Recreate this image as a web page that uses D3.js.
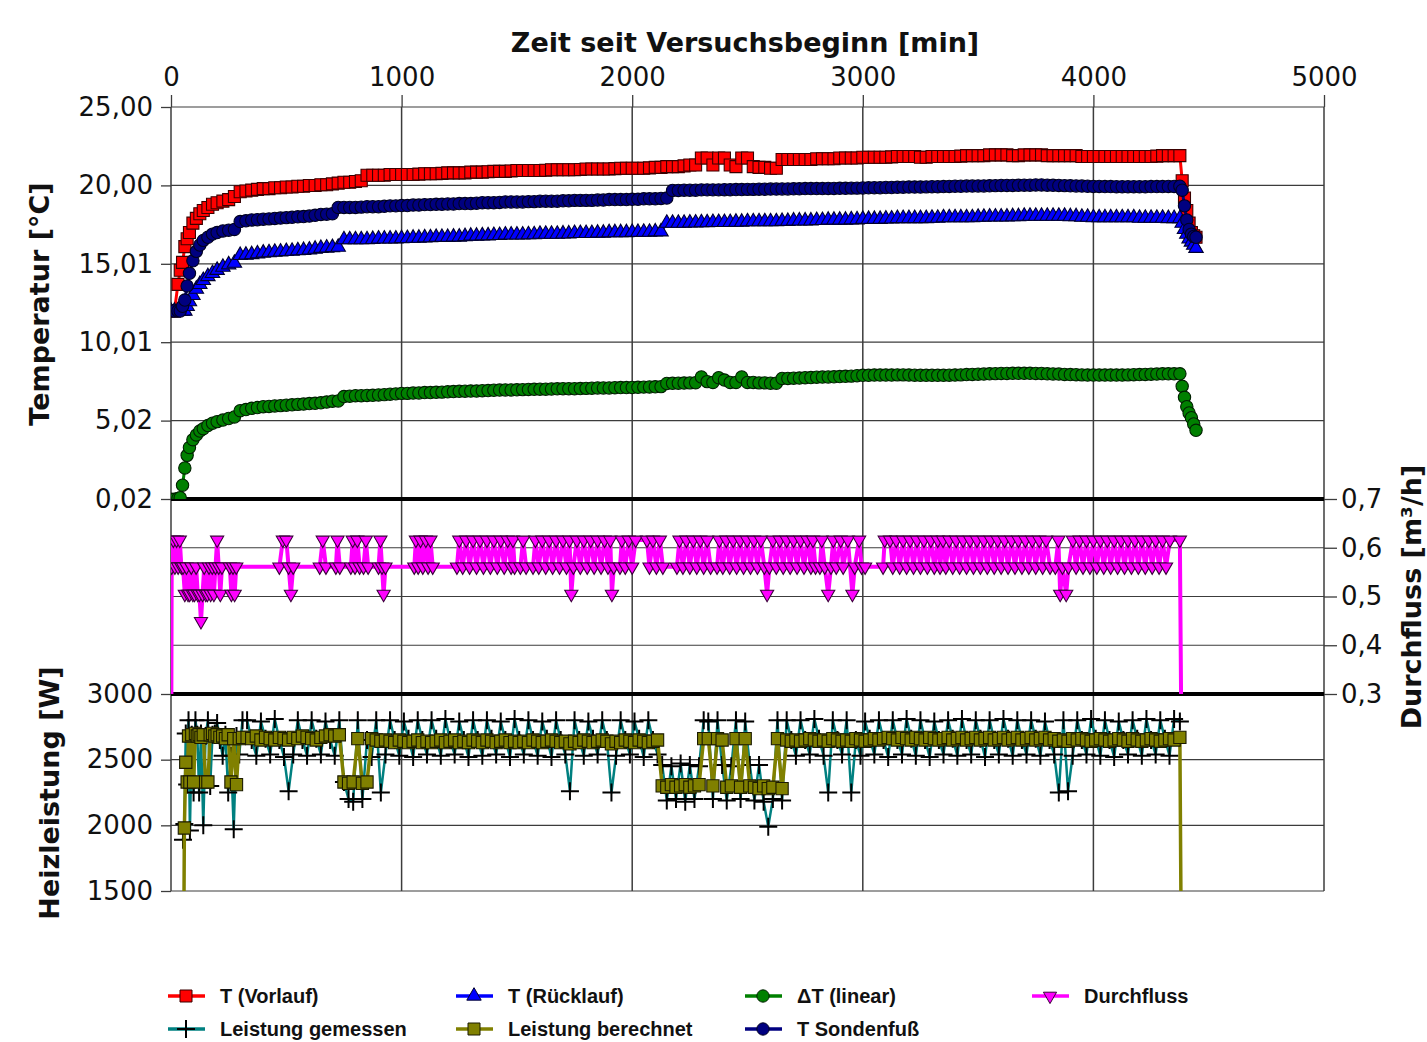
<!DOCTYPE html>
<html><head><meta charset="utf-8">
<script src="https://cdn.jsdelivr.net/npm/d3@7"></script>
<style>
body{margin:0;background:#fff}
</style></head><body>
<svg id="c" width="1427" height="1042"></svg>
<script>
// ---------------- DATA ----------------
const xTicks = [0, 1000, 2000, 3000, 4000, 5000];
const tempTicks = [0.02, 5.016, 10.012, 15.008, 20.004, 25.0];
const flowTicks = [0.3, 0.4, 0.5, 0.6, 0.7];
const powTicks = [1500, 2000, 2500, 3000];

// time [min] for temperature series
const tTemp = [0,15,30,40,50,60,70,80,95,110,125,140,160,180,200,225,250,275,
300,325,350,375,400,425,450,475,500,525,
550,575,600,625,650,675,700,725,750,775,
800,825,850,875,900,925,950,975,1000,1025,
1050,1075,1100,1125,1150,1175,1200,1225,1250,1275,
1300,1325,1350,1375,1400,1425,1450,1475,1500,1525,
1550,1575,1600,1625,1650,1675,1700,1725,1750,1775,
1800,1825,1850,1875,1900,1925,1950,1975,2000,2025,
2050,2075,2100,2125,2150,2175,2200,2225,2250,2275,
2300,2325,2350,2375,2400,2425,2450,2475,2500,2525,
2550,2575,2600,2625,2650,2675,2700,2725,2750,2775,
2800,2825,2850,2875,2900,2925,2950,2975,3000,3025,
3050,3075,3100,3125,3150,3175,3200,3225,3250,3275,
3300,3325,3350,3375,3400,3425,3450,3475,3500,3525,
3550,3575,3600,3625,3650,3675,3700,3725,3750,3775,
3800,3825,3850,3875,3900,3925,3950,3975,4000,4025,
4050,4075,4100,4125,4150,4175,4200,4225,4250,4275,
4300,4325,4350,
4375,4385,4395,4405,4415,4425,4435,4445];

const tVorlauf = [12.0,12.0,13.7,14.6,15.1,16.1,16.6,17.0,17.6,17.9,18.2,18.4,18.6,18.8,18.9,19.0,19.1,19.3,
19.6,19.65,19.7,19.75,19.8,19.8,19.85,19.85,19.9,19.9,
19.95,19.95,20.0,20.0,20.05,20.05,20.1,20.15,20.2,20.2,
20.25,20.3,20.65,20.65,20.65,20.65,20.7,20.7,20.7,20.7,
20.7,20.72,20.75,20.75,20.75,20.77,20.8,20.8,20.8,20.8,
20.85,20.85,20.85,20.87,20.9,20.9,20.9,20.92,20.95,20.95,
20.95,20.95,20.95,20.97,21.0,21.0,21.0,21.0,21.0,21.02,
21.05,21.05,21.05,21.05,21.05,21.07,21.1,21.1,21.1,21.1,
21.1,21.12,21.15,21.15,21.2,21.2,21.2,21.25,21.3,21.3,
21.75,21.75,21.3,21.75,21.75,21.3,21.2,21.75,21.75,21.2,
21.15,21.15,21.1,21.1,21.65,21.65,21.65,21.65,21.65,21.65,
21.7,21.7,21.7,21.7,21.75,21.75,21.75,21.75,21.8,21.8,
21.8,21.8,21.8,21.82,21.85,21.85,21.85,21.85,21.8,21.8,
21.85,21.85,21.85,21.85,21.85,21.87,21.9,21.9,21.9,21.9,
21.95,21.95,21.95,21.95,21.9,21.9,21.95,21.95,21.95,21.95,
21.9,21.9,21.9,21.9,21.9,21.9,21.85,21.85,21.85,21.85,
21.85,21.85,21.85,21.85,21.85,21.85,21.85,21.85,21.85,21.87,
21.9,21.9,21.9,
21.9,20.3,19.2,18.4,17.6,17.0,16.8,16.7];

const tRuecklauf = [12.0,12.0,12.0,12.0,12.0,12.0,12.3,12.6,13.0,13.4,13.7,13.95,14.2,14.4,14.6,14.8,14.95,15.05,
15.55,15.57,15.6,15.65,15.7,15.72,15.75,15.77,15.8,15.82,
15.85,15.87,15.9,15.95,16.0,16.02,16.05,16.07,16.55,16.55,
16.55,16.55,16.55,16.57,16.6,16.6,16.6,16.6,16.62,16.63,
16.65,16.65,16.67,16.68,16.7,16.7,16.7,16.72,16.72,16.75,
16.78,16.78,16.8,16.8,16.82,16.82,16.85,16.85,16.85,16.85,
16.87,16.87,16.9,16.9,16.9,16.9,16.92,16.92,16.95,16.95,
16.95,16.95,16.97,16.97,17.0,17.0,17.0,17.0,17.02,17.02,
17.03,17.03,17.05,17.05,17.6,17.6,17.6,17.6,17.62,17.62,
17.63,17.63,17.65,17.65,17.65,17.65,17.67,17.67,17.7,17.7,
17.7,17.7,17.7,17.7,17.72,17.72,17.75,17.75,17.75,17.75,
17.78,17.78,17.8,17.8,17.8,17.8,17.82,17.82,17.85,17.85,
17.85,17.85,17.87,17.87,17.9,17.9,17.9,17.9,17.9,17.9,
17.92,17.92,17.95,17.95,17.95,17.95,17.95,17.95,17.98,17.98,
18.0,18.0,18.0,18.0,18.02,18.02,18.05,18.05,18.05,18.05,
18.05,18.05,18.05,18.05,18.02,18.02,17.98,17.98,17.95,17.95,
17.95,17.95,17.95,17.95,17.95,17.95,17.92,17.92,17.92,17.92,
17.92,17.9,17.9,
17.9,17.6,17.2,16.9,16.6,16.4,16.2,16.0];

const deltaT = [0.0,0.0,0.05,0.1,0.9,2.0,2.8,3.3,3.8,4.1,4.35,4.5,4.7,4.85,4.95,5.05,5.15,5.25,
5.65,5.72,5.8,5.85,5.9,5.92,5.95,5.97,6.0,6.02,
6.05,6.07,6.1,6.12,6.15,6.2,6.25,6.27,6.55,6.57,
6.6,6.6,6.62,6.63,6.65,6.67,6.7,6.72,6.75,6.75,
6.77,6.78,6.8,6.8,6.82,6.83,6.85,6.87,6.88,6.89,
6.9,6.9,6.92,6.93,6.95,6.96,6.97,6.97,6.98,6.99,
7.0,7.01,7.02,7.02,7.03,7.04,7.05,7.05,7.05,7.06,
7.07,7.08,7.1,7.1,7.1,7.11,7.12,7.12,7.13,7.14,
7.15,7.16,7.17,7.18,7.38,7.39,7.4,7.41,7.42,7.43,
7.8,7.5,7.45,7.75,7.6,7.45,7.45,7.8,7.45,7.45,
7.42,7.42,7.4,7.4,7.7,7.7,7.72,7.73,7.75,7.76,
7.78,7.79,7.8,7.81,7.82,7.84,7.85,7.88,7.9,7.9,
7.92,7.92,7.92,7.92,7.93,7.93,7.92,7.91,7.9,7.9,
7.9,7.9,7.9,7.91,7.92,7.93,7.95,7.96,7.97,7.98,
8.0,8.01,8.02,8.02,8.03,8.03,8.03,8.03,8.02,8.02,
8.0,7.99,7.98,7.96,7.95,7.94,7.93,7.92,7.92,7.92,
7.92,7.92,7.92,7.92,7.93,7.94,7.95,7.96,7.97,7.98,
8.0,8.0,8.0,
8.0,7.2,6.5,5.9,5.5,5.2,4.8,4.4];

const tSondenfuss = [12.0,12.0,12.0,12.0,12.3,12.7,13.6,14.4,15.2,15.8,16.2,16.5,16.7,16.9,17.0,17.1,17.15,17.2,
17.7,17.75,17.8,17.82,17.85,17.87,17.9,17.92,17.95,17.97,
18.0,18.02,18.05,18.1,18.15,18.17,18.2,18.6,18.6,18.6,
18.6,18.62,18.65,18.65,18.65,18.67,18.7,18.7,18.72,18.72,
18.75,18.75,18.78,18.78,18.8,18.8,18.82,18.82,18.85,18.85,
18.85,18.87,18.9,18.9,18.9,18.92,18.95,18.95,18.95,18.95,
18.97,18.97,19.0,19.0,19.0,19.0,19.02,19.02,19.05,19.05,
19.05,19.05,19.07,19.07,19.1,19.1,19.1,19.1,19.12,19.12,
19.15,19.15,19.15,19.17,19.2,19.68,19.68,19.7,19.7,19.7,
19.72,19.72,19.72,19.72,19.73,19.73,19.74,19.74,19.75,19.75,
19.76,19.76,19.77,19.77,19.78,19.78,19.79,19.79,19.8,19.8,
19.8,19.8,19.81,19.81,19.82,19.82,19.83,19.83,19.84,19.85,
19.86,19.86,19.87,19.87,19.88,19.89,19.9,19.9,19.9,19.91,
19.92,19.92,19.93,19.94,19.95,19.95,19.96,19.96,19.97,19.97,
19.98,19.99,20.0,20.0,20.0,20.01,20.02,20.02,20.03,20.03,
20.02,20.01,20.0,19.99,19.98,19.97,19.96,19.95,19.94,19.94,
19.93,19.93,19.92,19.92,19.92,19.92,19.92,19.92,19.93,19.93,
19.93,19.94,19.94,
19.95,19.7,18.7,17.8,17.2,16.9,16.75,16.7];

// Durchfluss [m3/h]
const tFlow = [0,3,10,17,24,31,38,45,52,60,67,74,81,88,95,102,109,116,123,130,137,144,151,158,165,172,179,186,193,200,207,214,221,255,262,269,276,283,
470,485,500,510,520,530,645,658,672,715,722,732,780,788,798,808,818,835,845,855,900,908,915,922,930,1055,1062,1072,1082,1092,1105,1115,1125,1135,
1240,1250,1265,1280,1295,1310,1325,1340,1355,1370,1385,1400,1415,1430,1445,1460,1475,1483,1490,
1515,1527,1540,
1570,1580,1595,1610,1625,1640,1655,1670,1685,1700,1715,1728,1736,1745,1760,1775,1790,1805,1820,1835,1850,1865,1880,1895,1905,1912,1920,
1947,1955,1970,1985,2000,2015,2064,2075,2090,2105,2120,2133,
2194,2205,2220,2235,2250,2265,2280,2295,2310,2325,2340,
2368,2378,2393,2408,2423,2438,2453,2468,2483,2498,2513,2528,2543,2558,2573,2585,2595,2610,2625,2640,2655,2670,2685,2700,2715,2730,2745,2760,2775,2784,2795,
2814,2822,2835,2850,2862,2872,2885,2904,2915,2935,2955,2965,2984,2995,3010,3088,3095,
3118,3130,3145,3160,3175,3190,3205,3220,3235,3250,3265,3280,3295,3310,3325,3335,
3348,3360,3375,3390,3405,3420,3435,3450,3465,3480,3495,3510,3525,3540,3555,3570,3585,3600,3615,3630,3645,3660,3675,3690,3705,3720,3735,3750,3765,3780,3795,3812,
3835,3848,3856,3866,3882,3892,
3911,3925,3940,3955,3970,3985,4000,4015,4030,4045,4060,4075,4090,4105,4120,4135,4150,4165,4180,4195,4210,4225,4240,4255,4270,4285,4300,4315,4332,
4375,4385];

const durchfluss = [0,.561,.616,.561,.616,.561,.616,.561,.561,.505,.561,.505,.505,.561,.505,.505,.561,.505,.505,.449,.505,.561,.505,.505,.561,.505,.561,.505,.561,.616,.561,.505,.561,.561,.505,.561,.505,.561,
.561,.616,.616,.561,.505,.561,.561,.616,.561,.561,.616,.561,.561,.616,.561,.616,.561,.561,.616,.561,.561,.616,.561,.505,.561,.561,.616,.561,.616,.561,.616,.561,.616,.561,
.561,.616,.561,.616,.561,.616,.561,.616,.561,.616,.561,.616,.561,.616,.561,.616,.561,.616,.561,
.561,.616,.561,
.561,.616,.561,.616,.561,.616,.561,.616,.561,.616,.561,.616,.505,.561,.616,.561,.616,.561,.616,.561,.616,.561,.616,.561,.616,.505,.561,
.561,.616,.561,.616,.561,.616,.616,.561,.616,.561,.616,.561,
.561,.616,.561,.616,.561,.616,.561,.616,.561,.616,.561,
.561,.616,.561,.616,.561,.616,.561,.616,.561,.616,.561,.616,.561,.616,.561,.505,.561,.616,.561,.616,.561,.616,.561,.616,.561,.616,.561,.616,.561,.616,.561,
.561,.616,.561,.505,.561,.616,.561,.616,.561,.616,.505,.561,.616,.561,.561,.561,.616,
.616,.561,.616,.561,.616,.561,.616,.561,.616,.561,.616,.561,.616,.561,.616,.561,
.616,.561,.616,.561,.616,.561,.616,.561,.616,.561,.616,.561,.616,.561,.616,.561,.616,.561,.616,.561,.616,.561,.616,.561,.616,.561,.616,.561,.616,.561,.616,.561,
.561,.616,.505,.561,.505,.561,
.616,.561,.616,.561,.616,.561,.616,.561,.616,.561,.616,.561,.616,.561,.616,.561,.616,.561,.616,.561,.616,.561,.616,.561,.616,.561,.616,.561,.616,
.616,0];

// Heizleistung [W]
const tPow = [52,58,64,70,76,82,90,98,106,114,122,130,140,150,160,170,180,190,200,212,224,236,248,260,272,284,296,310,
330,350,370,390,410,430,450,470,490,510,
530,550,570,590,610,630,650,670,690,710,
730,750,770,790,810,830,850,870,890,910,
930,950,970,990,1010,1030,1050,1070,1090,1110,
1130,1150,1170,1190,1210,1230,1250,1270,1290,1310,
1330,1350,1370,1390,1410,1430,1450,1470,1490,1510,
1530,1550,1570,1590,1610,1630,1650,1670,1690,1710,
1730,1750,1770,1790,1810,1830,1850,1870,1890,1910,
1930,1950,1970,1990,2010,2030,2050,2070,2090,2110,
2130,2150,2170,2190,2210,2230,2250,2270,2290,2310,
2330,2350,2370,2390,2410,2430,2450,2470,2490,2510,
2530,2550,2570,2590,2610,2630,2650,2670,2690,2710,
2730,2750,2770,2790,2810,2830,2850,2870,2890,2910,
2930,2950,2970,2990,3010,3030,3050,3070,3090,3110,
3130,3150,3170,3190,3210,3230,3250,3270,3290,3310,
3330,3350,3370,3390,3410,3430,3450,3470,3490,3510,
3530,3550,3570,3590,3610,3630,3650,3670,3690,3710,
3730,3750,3770,3790,3810,3830,3850,3870,3890,3910,
3930,3950,3970,3990,4010,4030,4050,4070,4090,4110,
4130,4150,4170,4190,4210,4230,4250,4270,4290,4310,
4330,4350,
4375,4385];

const leistungGemessen = [1890,2010,2700,2310,2800,1960,2690,2250,2800,2690,2250,2700,2000,2680,2800,2300,2690,2700,2780,2650,2530,2690,2250,2530,1970,2680,2540,2800,
2800,2650,2530,2790,2660,2540,2810,2650,2520,2260,
2540,2800,2650,2530,2800,2660,2540,2790,2650,2530,
2800,2330,2200,2180,2800,2200,2650,2520,2800,2250,
2540,2800,2650,2530,2790,2660,2520,2800,2650,2540,
2800,2660,2530,2810,2650,2540,2790,2650,2520,2800,
2650,2530,2800,2660,2540,2790,2650,2520,2810,2650,
2540,2800,2650,2530,2790,2660,2520,2800,2650,2540,
2260,2800,2650,2530,2790,2660,2540,2800,2650,2250,
2530,2800,2650,2540,2790,2660,2520,2800,2650,2540,
2460,2190,2450,2200,2470,2180,2460,2200,2450,2800,
2790,2200,2800,2460,2190,2450,2800,2200,2790,2460,
2190,2460,2180,1990,2200,2800,2190,2800,2650,2530,
2800,2650,2540,2810,2660,2530,2250,2800,2650,2540,
2800,2250,2650,2530,2790,2660,2540,2800,2650,2520,
2800,2650,2540,2810,2660,2530,2800,2650,2520,2790,
2650,2540,2800,2660,2530,2810,2650,2540,2800,2660,
2520,2800,2650,2540,2810,2660,2530,2800,2650,2540,
2800,2660,2530,2790,2650,2540,2250,2800,2260,2530,
2800,2650,2540,2810,2660,2530,2800,2650,2520,2790,
2650,2540,2800,2660,2530,2810,2650,2540,2800,2660,
2530,2810,
2790,null];

const leistungBerechnet = [0,1980,2480,2330,2680,2330,2690,2330,2700,2680,2690,2670,2690,2330,2330,2690,2700,2680,2690,2670,2680,2660,2690,2330,2660,2310,2660,2670,
2670,2660,2680,2650,2670,2660,2650,2670,2660,2650,
2670,2660,2680,2670,2660,2650,2670,2680,2690,2680,
2690,2330,2320,2330,2660,2320,2330,2660,2650,2640,
2650,2640,2630,2650,2640,2630,2640,2650,2630,2640,
2630,2640,2650,2630,2640,2650,2630,2640,2630,2650,
2640,2630,2650,2640,2630,2640,2650,2630,2640,2630,
2640,2630,2650,2640,2630,2640,2650,2640,2630,2640,
2620,2640,2630,2650,2640,2630,2640,2650,2640,2620,
2640,2630,2650,2640,2630,2650,2640,2630,2640,2650,
2300,2290,2310,2290,2300,2310,2290,2300,2310,2660,
2660,2300,2660,2650,2290,2300,2660,2290,2660,2300,
2290,2280,2300,2280,2290,2660,2280,2650,2640,2650,
2640,2650,2660,2650,2640,2650,2640,2660,2650,2640,
2650,2640,2660,2650,2640,2650,2660,2650,2660,2670,
2660,2650,2670,2660,2650,2670,2660,2650,2670,2660,
2650,2660,2670,2650,2660,2670,2650,2660,2670,2650,
2660,2670,2650,2660,2670,2650,2660,2670,2650,2660,
2670,2650,2660,2670,2650,2660,2640,2650,2640,2660,
2650,2660,2650,2640,2650,2660,2650,2640,2650,2660,
2650,2640,2660,2650,2640,2650,2660,2650,2640,2650,
2660,2650,
2670,0];

const legendLabels = ["T (Vorlauf)","T (Rücklauf)","ΔT (linear)","Durchfluss",
                      "Leistung gemessen","Leistung berechnet","T Sondenfuß"];

// ---------------- CHART ----------------
const svg = d3.select("#c");
const L = 171, R = 1324, TOP = 107, Y1 = 499, Y2 = 694, BOT = 891;
const FONT = '"DejaVu Sans",Verdana,sans-serif';

const x = d3.scaleLinear().domain([0, 5000]).range([L, R]);
const yT = d3.scaleLinear().domain([0.02, 25]).range([Y1, TOP]);
const yF = d3.scaleLinear().domain([0.3, 0.7]).range([Y2, Y1]);
const yP = d3.scaleLinear().domain([1500, 3000]).range([BOT, Y2]);

const loc = d3.formatLocale({decimal: ",", thousands: ".", grouping: [3], currency: ["", ""]});
const f2 = loc.format(".2f"), f1 = loc.format(".1f");

const defs = svg.append("defs");
function clip(id, y0, y1) {
  defs.append("clipPath").attr("id", id).append("rect")
    .attr("x", L).attr("y", y0).attr("width", R - L).attr("height", y1 - y0);
}
clip("cT", TOP, Y1); clip("cF", Y1, Y2); clip("cP", Y2, BOT);

const gridCol = "#3c3c3c";
const grid = svg.append("g").attr("stroke", gridCol).attr("stroke-width", 1.2);
grid.selectAll(null).data(tempTicks).join("line")
  .attr("x1", L).attr("x2", R).attr("y1", d => yT(d)).attr("y2", d => yT(d));
grid.selectAll(null).data([0.4, 0.5, 0.6]).join("line")
  .attr("x1", L).attr("x2", R).attr("y1", d => yF(d)).attr("y2", d => yF(d));
grid.selectAll(null).data([1500, 2000, 2500]).join("line")
  .attr("x1", L).attr("x2", R).attr("y1", d => yP(d)).attr("y2", d => yP(d));
grid.selectAll(null).data(xTicks).join("line")
  .attr("x1", d => x(d)).attr("x2", d => x(d)).attr("y1", TOP).attr("y2", BOT)
  .attr("stroke-width", 1.5);

function styleAxis(g) {
  g.select(".domain").remove();
  g.selectAll(".tick line").attr("stroke", gridCol).attr("stroke-width", 1.3);
  g.selectAll(".tick text").style("font-family", FONT)
    .style("font-size", "26px").attr("fill", "#111");
}
svg.append("g").attr("transform", `translate(0,${TOP})`)
  .call(d3.axisTop(x).tickValues(xTicks).tickSize(12).tickPadding(9).tickFormat(d3.format("d")))
  .call(styleAxis);
svg.append("g").attr("transform", `translate(${L},0)`)
  .call(d3.axisLeft(yT).tickValues(tempTicks).tickSize(10).tickPadding(8).tickFormat(f2))
  .call(styleAxis);
svg.append("g").attr("transform", `translate(${L},0)`)
  .call(d3.axisLeft(yP).tickValues(powTicks).tickSize(10).tickPadding(8).tickFormat(d3.format("d")))
  .call(styleAxis);
svg.append("g").attr("transform", `translate(${R},0)`)
  .call(d3.axisRight(yF).tickValues(flowTicks).tickSize(13).tickPadding(4).tickFormat(f1))
  .call(styleAxis);

function title(tr, txt) {
  svg.append("text").attr("transform", tr).attr("text-anchor", "middle")
    .style("font-family", FONT).style("font-size", "27px").style("font-weight", "bold")
    .attr("fill", "#111").text(txt);
}
title("translate(745,52)", "Zeit seit Versuchsbeginn [min]");
title("translate(49,304) rotate(-90)", "Temperatur [°C]");
title("translate(59,793) rotate(-90)", "Heizleistung [W]");
title("translate(1421,597) rotate(-90)", "Durchfluss [m³/h]");

const mk = {
  square: {d: d3.symbol(d3.symbolSquare, 144)(), fill: true},
  tri: {d: d3.symbol(d3.symbolTriangle, 90)(), fill: true},
  circle: {d: d3.symbol(d3.symbolCircle, 120)(), fill: true},
  tridown: {d: d3.symbol(d3.symbolTriangle, 75)(), fill: true, rot: 180},
  plus: {d: "M-9,0H9M0,-9V9", fill: false},
  square2: {d: d3.symbol(d3.symbolSquare, 150)(), fill: true}
};

function series(clipId, ts, vs, yS, color, lw, m, mfill, mstroke) {
  const pts = ts.map((t, i) => ({t, v: vs[i]})).filter(d => d.v != null);
  const g = svg.append("g").attr("clip-path", `url(#${clipId})`);
  g.append("path").datum(pts)
    .attr("d", d3.line().x(d => x(d.t)).y(d => yS(d.v)))
    .attr("fill", "none").attr("stroke", color).attr("stroke-width", lw)
    .attr("stroke-linejoin", "round");
  g.selectAll(null).data(pts).join("path")
    .attr("transform", d => `translate(${x(d.t)},${yS(d.v)})` + (m.rot ? ` rotate(${m.rot})` : ""))
    .attr("d", m.d)
    .attr("fill", m.fill ? mfill : "none")
    .attr("stroke", mstroke).attr("stroke-width", m.fill ? 1.1 : 2);
}

const sep = svg.append("g").attr("stroke", "#000").attr("stroke-width", 4);
sep.append("line").attr("x1", L).attr("x2", R).attr("y1", Y1).attr("y2", Y1);
sep.append("line").attr("x1", L).attr("x2", R).attr("y1", Y2).attr("y2", Y2);

series("cT", tTemp, tVorlauf, yT, "#ff0000", 3, mk.square, "#ff0000", "#3a0000");
series("cT", tTemp, tRuecklauf, yT, "#0000ff", 3, mk.tri, "#0000ff", "#000030");
series("cT", tTemp, deltaT, yT, "#008000", 3, mk.circle, "#008000", "#002000");
series("cF", tFlow, durchfluss, yF, "#ff00ff", 4, mk.tridown, "#ff00ff", "#3a003a");
series("cP", tPow, leistungGemessen, yP, "#008080", 2.5, mk.plus, "none", "#000");
series("cP", tPow, leistungBerechnet, yP, "#808000", 3.5, mk.square2, "#808000", "#1a1a00");
series("cT", tTemp, tSondenfuss, yT, "#000080", 3, mk.circle, "#000080", "#000020");

const legItems = [
  {c: "#ff0000", m: mk.square, f: "#ff0000", s: "#3a0000", col: 0, row: 0},
  {c: "#0000ff", m: mk.tri, f: "#0000ff", s: "#000030", col: 1, row: 0},
  {c: "#008000", m: mk.circle, f: "#008000", s: "#002000", col: 2, row: 0},
  {c: "#ff00ff", m: mk.tridown, f: "#ff00ff", s: "#3a003a", col: 3, row: 0},
  {c: "#008080", m: mk.plus, f: "none", s: "#000", col: 0, row: 1},
  {c: "#808000", m: mk.square, f: "#808000", s: "#1a1a00", col: 1, row: 1},
  {c: "#000080", m: mk.circle, f: "#000080", s: "#000020", col: 2, row: 1}
];
const colX = [168, 456, 745, 1032], rowY = [996, 1029];
const leg = svg.append("g");
legItems.forEach((it, i) => {
  const x0 = colX[it.col], y0 = rowY[it.row];
  leg.append("line").attr("x1", x0).attr("x2", x0 + 37).attr("y1", y0).attr("y2", y0)
    .attr("stroke", it.c).attr("stroke-width", 3.5);
  leg.append("path").attr("d", it.m.d)
    .attr("transform", `translate(${x0 + 18},${y0})` + (it.m.rot ? ` rotate(${it.m.rot})` : ""))
    .attr("fill", it.m.fill ? it.f : "none").attr("stroke", it.s).attr("stroke-width", it.m.fill ? 1 : 2);
  leg.append("text").attr("x", x0 + 52).attr("y", y0 + 7)
    .style("font-family", '"Liberation Sans",Arial,sans-serif').style("font-weight", "bold")
    .style("font-size", "20px").attr("fill", "#111").text(legendLabels[i]);
});
</script>
</body></html>
